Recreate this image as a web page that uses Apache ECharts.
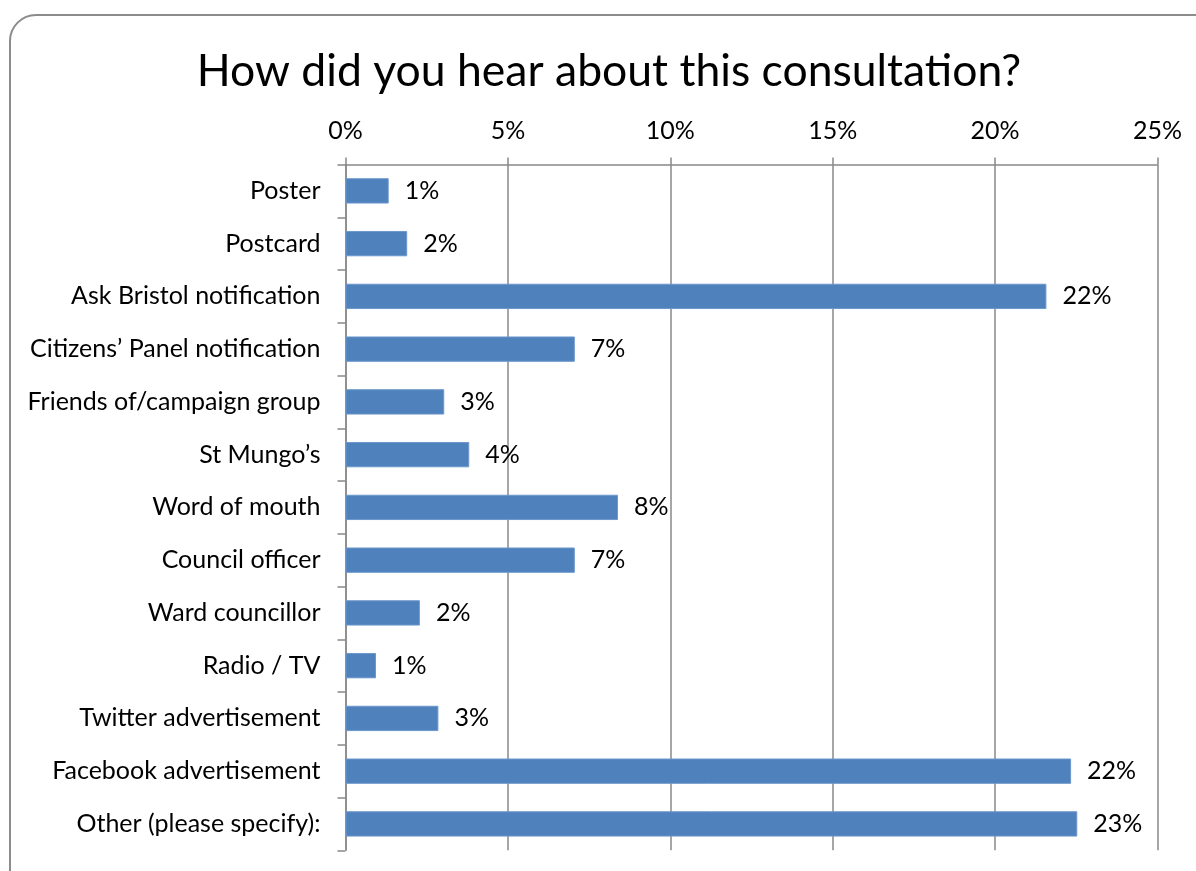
<!DOCTYPE html>
<html>
<head>
<meta charset="utf-8">
<script src="https://cdn.jsdelivr.net/npm/echarts@6/dist/echarts.min.js"></script>
<style>
  html, body { margin: 0; padding: 0; background: #ffffff; }
  #chart { width: 1196px; height: 871px; }
</style>
</head>
<body>
<div id="chart"></div>
<script>
// Survey answers: where respondents heard about the consultation
const categories = [
  'Poster',
  'Postcard',
  'Ask Bristol notification',
  'Citizens\u2019 Panel notification',
  'Friends of/campaign group',
  'St Mungo\u2019s',
  'Word of mouth',
  'Council officer',
  'Ward councillor',
  'Radio / TV',
  'Twitter advertisement',
  'Facebook advertisement',
  'Other (please specify):'
];

// Share of respondents, in percent
const shares = [1.33, 1.90, 21.58, 7.06, 3.04, 3.81, 8.39, 7.06, 2.29, 0.94, 2.86, 22.34, 22.53];

// Percentage axis ticks
const axisMin = 0;
const axisMax = 25;
const axisStep = 5;

const FONT = 'Lato, "Open Sans", sans-serif';
const GRID_GREY = '#888888';

const chart = echarts.init(document.getElementById('chart'), null, { renderer: 'canvas' });

chart.setOption({
  backgroundColor: '#ffffff',
  animation: false,
  title: {
    text: 'How did you hear about this consultation?',
    left: 604,
    top: 44,
    textAlign: 'center',
    textStyle: { fontFamily: FONT, fontSize: 44.5, fontWeight: 'normal', color: '#000000' }
  },
  graphic: [{
    type: 'rect',
    shape: { x: 10, y: 15, width: 1220, height: 900, r: 26 },
    style: { fill: 'none', stroke: '#8c8c8c', lineWidth: 2 },
    silent: true,
    z: 100
  }],
  grid: { left: 345.5, right: 38.5, top: 164.5, bottom: 20.7, containLabel: false },
  xAxis: {
    type: 'value',
    position: 'top',
    min: axisMin,
    max: axisMax,
    interval: axisStep,
    axisLine: { show: true, lineStyle: { color: GRID_GREY, width: 1.5 } },
    axisTick: { show: true, length: 7, lineStyle: { color: GRID_GREY, width: 1.5 } },
    splitLine: { show: true, lineStyle: { color: GRID_GREY, width: 1.5 } },
    axisLabel: {
      margin: 21,
      fontFamily: FONT, fontSize: 25, color: '#000000',
      formatter: v => v + '%'
    }
  },
  yAxis: {
    type: 'category',
    inverse: true,
    data: categories,
    axisLine: { show: true, lineStyle: { color: GRID_GREY, width: 1.5 } },
    axisTick: { show: true, length: 8, inside: false, lineStyle: { color: GRID_GREY, width: 1.5 } },
    splitLine: { show: false },
    axisLabel: { margin: 25, fontFamily: FONT, fontSize: 25, color: '#000000' }
  },
  series: [{
    type: 'bar',
    data: shares,
    barWidth: '48%',
    itemStyle: { color: '#4F81BD', borderColor: '#6d98cc', borderWidth: 1 },
    label: {
      show: true,
      position: 'right',
      distance: 16,
      fontFamily: FONT, fontSize: 25, color: '#000000',
      formatter: p => Math.round(p.value) + '%'
    }
  }]
});
</script>
</body>
</html>
